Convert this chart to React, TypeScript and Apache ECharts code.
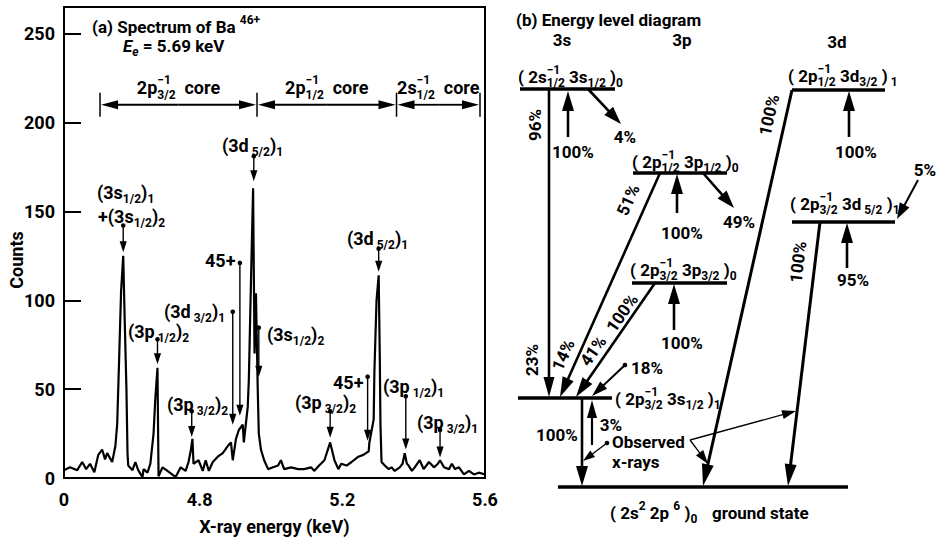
import React, { useEffect, useRef } from 'react';
import * as echarts from 'echarts';

const FONT = "'Liberation Sans Narrow', 'Roboto', 'Liberation Sans', sans-serif";

// Spectrum of Ba46+ (x-ray energy in keV, counts)
const energy = [
  4.420, 4.437, 4.457, 4.471, 4.482, 4.493, 4.505, 4.516, 4.527, 4.535, 4.541, 4.555, 4.564, 4.569, 4.575,
  4.580, 4.586, 4.590, 4.595, 4.598, 4.600, 4.612, 4.620, 4.628, 4.640, 4.643, 4.654, 4.662, 4.671, 4.676,
  4.682, 4.685, 4.696, 4.710, 4.733, 4.747, 4.761, 4.769, 4.775, 4.780, 4.783, 4.797, 4.809, 4.817, 4.826,
  4.837, 4.851, 4.865, 4.879, 4.888, 4.893, 4.902, 4.910, 4.921, 4.924, 4.935, 4.938, 4.944, 4.950, 4.954,
  4.958, 4.963, 4.966, 4.972, 4.981, 4.992, 5.006, 5.020, 5.028, 5.037, 5.057, 5.076, 5.093, 5.113, 5.121,
  5.135, 5.150, 5.166, 5.178, 5.189, 5.197, 5.212, 5.226, 5.245, 5.259, 5.274, 5.276, 5.288, 5.290, 5.296,
  5.302, 5.305, 5.307, 5.310, 5.319, 5.330, 5.338, 5.347, 5.361, 5.369, 5.375, 5.381, 5.386, 5.395, 5.403,
  5.417, 5.428, 5.443, 5.457, 5.468, 5.474, 5.485, 5.499, 5.507, 5.516, 5.527, 5.541, 5.555, 5.569, 5.583,
  5.600,
];
const counts = [
  4.4, 6, 4.4, 9, 5, 8, 3.3, 13, 16, 10.5, 14, 9, 18, 30, 70,
  105, 125, 90, 50, 14, 7, 4.4, 9, 4.4, 0.5, 5, 3, 8, 25, 45,
  62, 1, 6, 4, 0.5, 6, 4, 9, 15, 22, 8, 10, 4, 10, 4,
  9, 12, 14, 18, 20, 10, 22, 27, 30, 20, 40, 55, 110, 163, 70,
  104, 50, 25, 16, 10, 5, 6, 7, 10, 5, 6, 5, 5, 6, 4,
  7, 10, 20, 10, 5, 8, 7, 9, 12, 13, 15, 20, 33, 60, 100,
  114, 70, 30, 9, 7, 5, 6, 4, 6, 8, 14, 8, 7, 4, 6,
  10, 5, 9, 6, 8, 10, 6, 5, 8, 5, 6, 2, 4, 2, 3,
  2,
];

// Line markers: energy, count at the dot, count at the arrow tip
const markEnergy = [4.586, 4.682, 4.778, 4.893, 4.913, 4.952, 4.966, 5.166, 5.271, 5.302, 5.378, 5.474];
const markTop = [142, 78, 37.6, 93.5, 121, 181, 84.6, 37.6, 57, 129, 46, 27];
const markTip = [127, 64, 23, 30, 35, 167, 57, 22.6, 21, 116, 16, 11.6];

// Core-hole regions (keV) and the count level of the bracket arrows
const coreBounds = [4.521, 4.961, 5.352, 5.586];
const coreLevel = 210;

const xTicks = [4.42, 4.8, 5.2, 5.6];
const xTickText = ['0', '4.8', '5.2', '5.6'];
const yTicks = [0, 50, 100, 150, 200, 250];

type Tok = string | { t?: string; b?: string; p?: string; it?: boolean };

let mctx: CanvasRenderingContext2D | null = null;
function measure(t: string, size: number, italic = false) {
  if (!mctx) mctx = document.createElement('canvas').getContext('2d');
  if (!mctx) return t.length * size * 0.5;
  mctx.font = `${italic ? 'italic ' : ''}bold ${size}px ${FONT}`;
  return mctx.measureText(t).width;
}

function txt(x: number, y: number, text: string, size: number, align = 'left', rotation = 0, italic = false) {
  return {
    type: 'text',
    x,
    y,
    rotation,
    silent: true,
    z: 10,
    style: {
      text,
      font: `${italic ? 'italic ' : ''}bold ${size}px ${FONT}`,
      fill: '#000',
      align,
      verticalAlign: 'middle',
      textAlign: align,
      textVerticalAlign: 'middle',
    },
  };
}

function formula(els: any[], tokens: Tok[], x: number, y: number, size = 18, align: 'left' | 'center' = 'left') {
  const sub = Math.round(size * 0.68);
  const parts: { t: string; dx: number; dy: number; sz: number; it: boolean }[] = [];
  let cx = 0;
  for (const tk of tokens) {
    if (typeof tk === 'string') {
      parts.push({ t: tk, dx: cx, dy: 0, sz: size, it: false });
      cx += measure(tk, size);
      continue;
    }
    if (tk.t) {
      parts.push({ t: tk.t, dx: cx, dy: 0, sz: size, it: !!tk.it });
      cx += measure(tk.t, size, !!tk.it);
    }
    let w = 0;
    if (tk.b) {
      parts.push({ t: tk.b, dx: cx, dy: size * 0.38, sz: sub, it: !!tk.it });
      w = Math.max(w, measure(tk.b, sub, !!tk.it));
    }
    if (tk.p) {
      parts.push({ t: tk.p, dx: cx, dy: -size * 0.42, sz: sub, it: false });
      w = Math.max(w, measure(tk.p, sub));
    }
    cx += w;
  }
  const x0 = align === 'center' ? x - cx / 2 : x;
  for (const p of parts) els.push(txt(x0 + p.dx, y + p.dy, p.t, p.sz, 'left', 0, p.it));
}

function arrow(els: any[], x1: number, y1: number, x2: number, y2: number, lw = 2.5, hl = 16, hw = 5.5, dot = false) {
  const dx = x2 - x1;
  const dy = y2 - y1;
  const L = Math.hypot(dx, dy) || 1;
  const ux = dx / L;
  const uy = dy / L;
  const bx = x2 - ux * hl;
  const by = y2 - uy * hl;
  els.push({
    type: 'line',
    silent: true,
    z: 10,
    shape: { x1, y1, x2: bx + ux * 2, y2: by + uy * 2 },
    style: { stroke: '#000', lineWidth: lw },
  });
  els.push({
    type: 'polygon',
    silent: true,
    z: 10,
    shape: { points: [[x2, y2], [bx - uy * hw, by + ux * hw], [bx + uy * hw, by - ux * hw]] },
    style: { fill: '#000' },
  });
  if (dot) els.push({ type: 'circle', silent: true, z: 10, shape: { cx: x1, cy: y1, r: 2.3 }, style: { fill: '#000' } });
}

function seg(els: any[], x1: number, y1: number, x2: number, y2: number, lw = 3.5) {
  els.push({ type: 'line', silent: true, z: 10, shape: { x1, y1, x2, y2 }, style: { stroke: '#000', lineWidth: lw } });
}

export default function App() {
  const ref = useRef<HTMLDivElement>(null);
  useEffect(() => {
    if (!ref.current) return;
    const chart = echarts.init(ref.current, null, { renderer: 'svg' });
    const axisFont = { fontFamily: FONT, fontWeight: 'bold' as const, fontSize: 18, color: '#000' };
    chart.setOption({
      animation: false,
      backgroundColor: '#fff',
      grid: { left: 64, top: 7, width: 421, height: 479, show: true, borderColor: '#000', borderWidth: 2 },
      xAxis: {
        type: 'value',
        min: 4.42,
        max: 5.6,
        axisLine: { show: true, onZero: false, lineStyle: { color: '#000', width: 2 } },
        axisTick: { show: false },
        splitLine: { show: false },
        axisLabel: {
          ...axisFont,
          margin: 12,
          showMinLabel: true,
          showMaxLabel: true,
          customValues: xTicks,
          formatter: (v: number) => {
            let best = 0;
            xTicks.forEach((t, i) => {
              if (Math.abs(t - v) < Math.abs(xTicks[best] - v)) best = i;
            });
            return xTickText[best];
          },
        },
        name: 'X-ray energy (keV)',
        nameLocation: 'middle',
        nameGap: 39,
        nameTextStyle: { ...axisFont },
      },
      yAxis: {
        type: 'value',
        min: 0,
        max: 265,
        axisLine: { show: true, onZero: false, lineStyle: { color: '#000', width: 2 } },
        axisTick: { show: true, inside: true, length: 17, customValues: yTicks, lineStyle: { color: '#000', width: 2 } },
        axisLabel: { ...axisFont, margin: 9, customValues: yTicks },
        splitLine: { show: false },
      },
      series: [
        {
          type: 'line',
          data: energy.map((e, i) => [e, counts[i]]),
          symbol: 'none',
          silent: true,
          lineStyle: { color: '#000', width: 2.2 },
        },
      ],
    });

    const P = (x: number, y: number) => chart.convertToPixel({ xAxisIndex: 0, yAxisIndex: 0 }, [x, y]) as number[];
    const els: any[] = [];

    // ---- Panel (a) ----
    els.push(txt(16, 260, 'Counts', 18, 'center', Math.PI / 2));
    formula(els, ['(a) Spectrum of Ba ', { p: '46+' }], 92, 27, 17);
    formula(els, [{ t: 'E', b: 'e', it: true }, ' = 5.69 keV'], 123, 46, 17);

    // core brackets
    for (let i = 0; i < coreBounds.length; i++) {
      const [bx, by] = P(coreBounds[i], coreLevel);
      seg(els, bx, by - 12, bx, by + 12, 1.5);
    }
    const coreLabels: Tok[][] = [
      ['2p', { b: '3/2', p: '−1' }, '  core'],
      ['2p', { b: '1/2', p: '−1' }, '  core'],
      ['2s', { b: '1/2', p: '−1' }, '  core'],
    ];
    for (let i = 0; i < coreBounds.length - 1; i++) {
      const [ax, ay] = P(coreBounds[i], coreLevel);
      const [bx] = P(coreBounds[i + 1], coreLevel);
      const mx = (ax + bx) / 2;
      arrow(els, mx, ay, ax + 1, ay, 1.8, 17, 4.5);
      arrow(els, mx, ay, bx - 1, ay, 1.8, 17, 4.5);
      formula(els, coreLabels[i], mx, ay - 17, 18, 'center');
    }

    // line markers
    for (let i = 0; i < markEnergy.length; i++) {
      const [x1, y1] = P(markEnergy[i], markTop[i]);
      const [x2, y2] = P(markEnergy[i], markTip[i]);
      arrow(els, x1, y1, x2, y2, 1.4, 11, 3.6, true);
    }

    const specLabels: [Tok[], number, number][] = [
      [['(3s', { b: '1/2' }, ')', { b: '1' }], 97, 192],
      [['+(3s', { b: '1/2' }, ')', { b: '2' }], 98, 216],
      [['(3d', { b: ' 5/2' }, ')', { b: '1' }], 222, 145],
      [['45+'], 205, 260],
      [['(3d', { b: ' 3/2' }, ')', { b: '1' }], 164, 311],
      [['(3p', { b: ' 1/2' }, ')', { b: '2' }], 128, 331],
      [['(3s', { b: '1/2' }, ')', { b: '2' }], 267, 334],
      [['(3d', { b: ' 5/2' }, ')', { b: '1' }], 347, 238],
      [['(3p', { b: ' 3/2' }, ')', { b: '2' }], 167, 404],
      [['(3p', { b: ' 3/2' }, ')', { b: '2' }], 295, 402],
      [['45+'], 333, 382],
      [['(3p', { b: ' 1/2' }, ')', { b: '1' }], 383, 386],
      [['(3p', { b: ' 3/2' }, ')', { b: '1' }], 417, 422],
    ];
    for (const [tk, x, y] of specLabels) formula(els, tk, x, y, 18);

    // ---- Panel (b): energy level diagram ----
    els.push(txt(516, 20, '(b) Energy level diagram', 17));
    els.push(txt(562, 40, '3s', 17, 'center'));
    els.push(txt(682, 40, '3p', 17, 'center'));
    els.push(txt(837, 42, '3d', 17, 'center'));

    // levels
    seg(els, 520, 89, 615, 89);
    seg(els, 633, 173, 727, 173);
    seg(els, 632, 283, 727, 283);
    seg(els, 518, 398, 612, 398);
    seg(els, 558, 487, 848, 487);
    seg(els, 792, 90, 885, 90);
    seg(els, 792, 222, 895, 222);

    formula(els, ['( 2s', { b: '1/2', p: '−1' }, ' 3s', { b: '1/2' }, ' )', { b: '0' }], 518, 77, 17);
    formula(els, ['( 2p', { b: '1/2', p: '−1' }, ' 3p', { b: '1/2' }, ' )', { b: '0' }], 632, 162, 17);
    formula(els, ['( 2p', { b: '3/2', p: '−1' }, ' 3p', { b: '3/2' }, ' )', { b: '0' }], 630, 270, 17);
    formula(els, ['( 2p', { b: '3/2', p: '−1' }, ' 3s', { b: '1/2' }, ' )', { b: '1' }], 615, 399, 17);
    formula(els, ['( 2p', { b: '1/2', p: '−1' }, ' 3d', { b: '3/2' }, ' )', { b: ' 1' }], 788, 76, 17);
    formula(els, ['( 2p', { b: '3/2', p: '−1' }, ' 3d', { b: ' 5/2' }, ' )', { b: '1' }], 790, 204, 17);
    formula(els, ['( 2s', { p: '2' }, ' 2p ', { p: '6' }, ' )', { b: '0' }], 610, 513, 17);
    els.push(txt(712, 513, 'ground state', 17));

    // transitions
    arrow(els, 549, 89, 549, 397, 2.6, 20, 5.5);
    arrow(els, 568, 137, 568, 91, 2.6, 20, 6);
    arrow(els, 588, 89, 621, 124, 2.6, 18, 6);
    arrow(els, 660, 173, 560, 397, 2.6, 20, 6);
    arrow(els, 677, 213, 677, 174, 2.6, 20, 6);
    arrow(els, 703, 173, 734, 208, 2.6, 18, 6);
    arrow(els, 655, 283, 576, 397, 2.6, 20, 6);
    arrow(els, 674, 330, 674, 284, 2.6, 20, 6);
    arrow(els, 625, 365, 592, 396, 2, 16, 5, true);
    arrow(els, 582, 398, 582, 486, 2.6, 20, 6);
    arrow(els, 592, 445, 592, 400, 2.2, 18, 5);
    arrow(els, 607, 443, 583, 461, 1.3, 12, 4, true);
    arrow(els, 690, 440, 708, 464, 1.3, 14, 4.5);
    arrow(els, 690, 440, 796, 411, 1.3, 14, 4.5);
    arrow(els, 792, 90, 703, 486, 3, 22, 6);
    arrow(els, 849, 137, 849, 91, 2.6, 20, 6);
    arrow(els, 820, 222, 788, 486, 3, 22, 6);
    arrow(els, 847, 268, 847, 223, 2.6, 20, 6);
    arrow(els, 918, 180, 897, 219, 2, 16, 5.5);

    // percentages
    const d = Math.PI / 180;
    els.push(txt(535, 125, '96%', 17, 'center', 90 * d));
    els.push(txt(573, 152, '100%', 17, 'center'));
    els.push(txt(625, 137, '4%', 17, 'center'));
    els.push(txt(682, 233, '100%', 17, 'center'));
    els.push(txt(739, 222, '49%', 17, 'center'));
    els.push(txt(628, 200, '51%', 17, 'center', 66 * d));
    els.push(txt(682, 343, '100%', 17, 'center'));
    els.push(txt(622, 313, '100%', 17, 'center', 55 * d));
    els.push(txt(593, 351, '41%', 17, 'center', 55 * d));
    els.push(txt(563, 355, '14%', 17, 'center', 66 * d));
    els.push(txt(532, 360, '23%', 17, 'center', 90 * d));
    els.push(txt(647, 368, '18%', 17, 'center'));
    els.push(txt(557, 435, '100%', 17, 'center'));
    els.push(txt(611, 425, '3%', 17, 'center'));
    els.push(txt(612, 442, 'Observed', 17));
    els.push(txt(612, 462, 'x-rays', 17));
    els.push(txt(769, 115, '100%', 17, 'center', 77 * d));
    els.push(txt(856, 152, '100%', 17, 'center'));
    els.push(txt(925, 170, '5%', 17, 'center'));
    els.push(txt(853, 280, '95%', 17, 'center'));
    els.push(txt(798, 262, '100%', 17, 'center', 83 * d));

    chart.setOption({ graphic: { elements: els } });

    return () => chart.dispose();
  }, []);

  return <div ref={ref} style={{ position: 'fixed', left: 0, top: 0, width: 946, height: 540 }} />;
}
